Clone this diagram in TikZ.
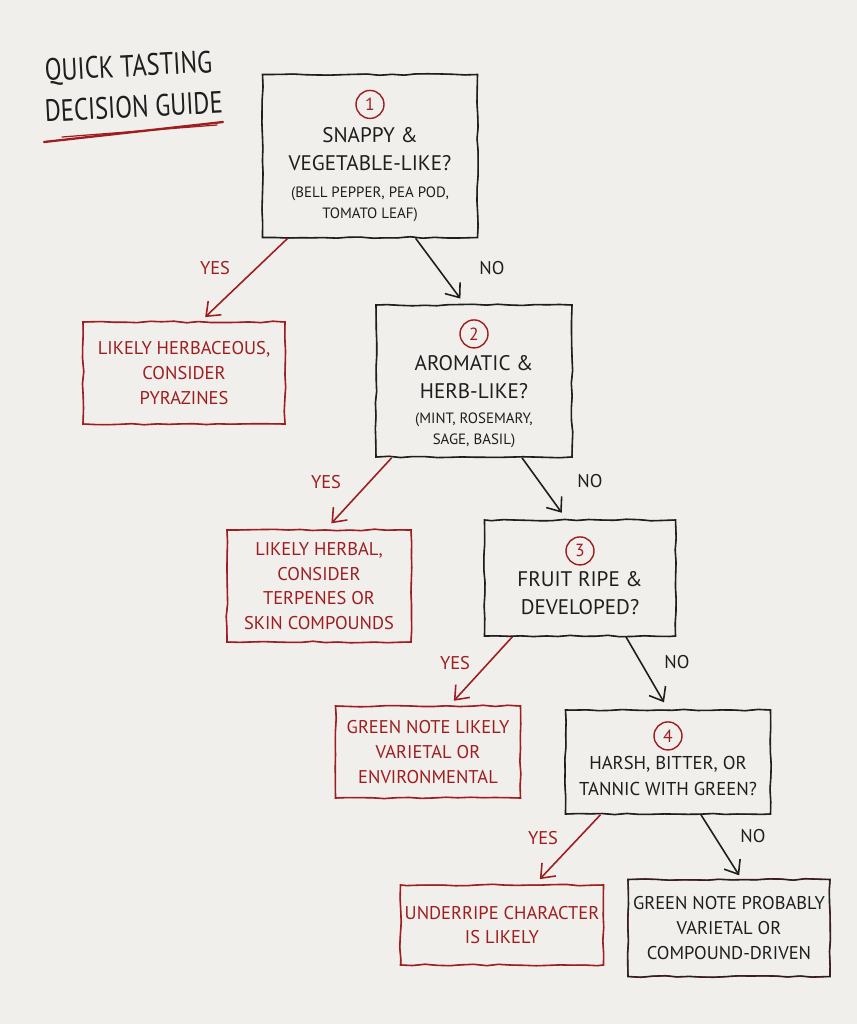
\documentclass[tikz,border=0pt]{standalone}
\usepackage{fontspec}
\setmainfont{PT Sans}
\usetikzlibrary{arrows.meta,decorations.pathmorphing,positioning,calc}
\definecolor{paper}{RGB}{240,239,236}
\definecolor{ink}{RGB}{30,30,30}
\definecolor{redink}{RGB}{158,30,32}
\tikzset{%
  sketch/.style   = {decorate, decoration={random steps, segment length=7pt, amplitude=0.45pt}},%
  title/.style    = {text=ink, anchor=base west, inner sep=0pt, rotate=3,%
                     font=\fontsize{17.5}{21}\selectfont, xscale=0.8, transform shape},%
  question/.style = {shape=rectangle, draw=ink, line width=0.9pt, sketch,%
                     inner sep=0pt, postaction={draw=ink, line width=0.45pt, sketch}},%
  verdict/.style  = {shape=rectangle, draw=redink, line width=0.9pt, sketch,%
                     align=center, text=redink, inner sep=0pt,%
                     font=\fontsize{10.5}{14}\selectfont,%
                     postaction={draw=redink, line width=0.45pt, sketch}},%
  final/.style    = {verdict, draw=ink, text=ink, postaction={draw=ink, line width=0.45pt, sketch}},%
  num/.style      = {circle, draw=redink, line width=0.8pt, text=redink,%
                     minimum size=5.6mm, inner sep=0pt, font=\fontsize{10}{12}\selectfont},%
  qtext/.style    = {align=center, text=ink, font=\fontsize{12}{15.5}\selectfont},%
  qsub/.style     = {align=center, text=ink, font=\fontsize{8.5}{12}\selectfont},%
  yeslabel/.style = {text=redink, font=\fontsize{10.5}{12}\selectfont},%
  nolabel/.style  = {text=ink, font=\fontsize{10.5}{12}\selectfont},%
  yesarrow/.style = {draw=redink, line width=0.9pt, -{Straight Barb[length=2.4mm, width=3.8mm]}},%
  noarrow/.style  = {draw=ink, line width=0.9pt, -{Straight Barb[length=2.4mm, width=3.8mm]}}%
}

\begin{document}
\begin{tikzpicture}[x=0.2mm, y=-0.2mm]
	% napkin
	\fill[paper] (0,0) rectangle (857,1024);
	% title
	\node[title] (title1) at (45,81) {QUICK TASTING};
	\node[title] (title2) at (45,122) {DECISION GUIDE};
	\coordinate (ulA) at (44,142);
	\coordinate (ulB) at (223,122);
	\draw[redink, line width=1.3pt, line cap=round] (ulA) -- (ulB);
	\draw[redink, line width=0.7pt, line cap=round] ($(ulA)+(18,-5)$) -- ($(ulB)+(-6,3)$);
	% question boxes
	\node[question, minimum width=43mm, minimum height=32.6mm] (q1) at (370,156) {};
	\node[num, below=3.2mm of q1.north] (n1) {1};
	\node[qtext] (t1) at (370,149) {SNAPPY \&\\VEGETABLE-LIKE?};
	\node[qsub] (s1) at (370,204) {(BELL PEPPER, PEA POD,\\TOMATO LEAF)};
	%
	\node[question, minimum width=39.2mm, minimum height=30.4mm] (q2) at (474,381) {};
	\node[num, below=3mm of q2.north] (n2) {2};
	\node[qtext] (t2) at (474,377) {AROMATIC \&\\HERB-LIKE?};
	\node[qsub] (s2) at (474,430) {(MINT, ROSEMARY,\\SAGE, BASIL)};
	%
	\node[question, minimum width=38.2mm, minimum height=23.2mm] (q3) at (580,578) {};
	\node[num, below=3.4mm of q3.north] (n3) {3};
	\node[qtext] (t3) at (580,593) {FRUIT RIPE \&\\DEVELOPED?};
	%
	\node[question, minimum width=41mm, minimum height=20.8mm] (q4) at (668,762) {};
	\node[num, below=2.4mm of q4.north] (n4) {4};
	\node[qtext, font=\fontsize{10.6}{15}\selectfont] (t4) at (668,776) {HARSH, BITTER, OR\\TANNIC WITH GREEN?};
	% outcomes
	\node[verdict, minimum width=40.4mm, minimum height=20.4mm] (herbaceous) at (184,373)
		{LIKELY HERBACEOUS,\\CONSIDER\\PYRAZINES};
	\node[verdict, minimum width=36.8mm, minimum height=22.4mm] (herbal) at (319,586)
		{LIKELY HERBAL,\\CONSIDER\\TERPENES OR\\SKIN COMPOUNDS};
	\node[verdict, minimum width=37mm, minimum height=18.4mm] (varietal) at (428,752)
		{GREEN NOTE LIKELY\\VARIETAL OR\\ENVIRONMENTAL};
	\node[verdict, minimum width=40.6mm, minimum height=16mm] (underripe) at (502,925)
		{UNDERRIPE CHARACTER\\IS LIKELY};
	\node[final, minimum width=40.4mm, minimum height=19.4mm] (compound) at (729,928)
		{GREEN NOTE PROBABLY\\VARIETAL OR\\COMPOUND-DRIVEN};
	% answers
	\draw[yesarrow, shorten >=1.2mm] (q1.225) -- (herbaceous.72);
	\draw[noarrow, shorten >=1.4mm] (q1.299) -- (q2.97);
	\draw[yesarrow, shorten >=1.6mm] (q2.223) -- (herbal.83);
	\draw[noarrow, shorten >=1.6mm] (q2.302) -- (q3.103);
	\draw[yesarrow, shorten >=1.2mm] (q3.221) -- (varietal.65);
	\draw[noarrow, shorten >=1.6mm] (q3.308) -- (q4.90);
	\draw[yesarrow, shorten >=1.4mm] (q4.218) -- (underripe.51);
	\draw[noarrow, shorten >=0.8mm] (q4.302) -- (compound.76);
	\node[yeslabel] (y1) at (215,268) {YES};
	\node[nolabel] (no1) at (492,268) {NO};
	\node[yeslabel] (y2) at (326,482) {YES};
	\node[nolabel] (no2) at (590,481) {NO};
	\node[yeslabel] (y3) at (455,663) {YES};
	\node[nolabel] (no3) at (677,662) {NO};
	\node[yeslabel] (y4) at (543,838) {YES};
	\node[nolabel] (no4) at (753,836) {NO};
\end{tikzpicture}
\end{document}
